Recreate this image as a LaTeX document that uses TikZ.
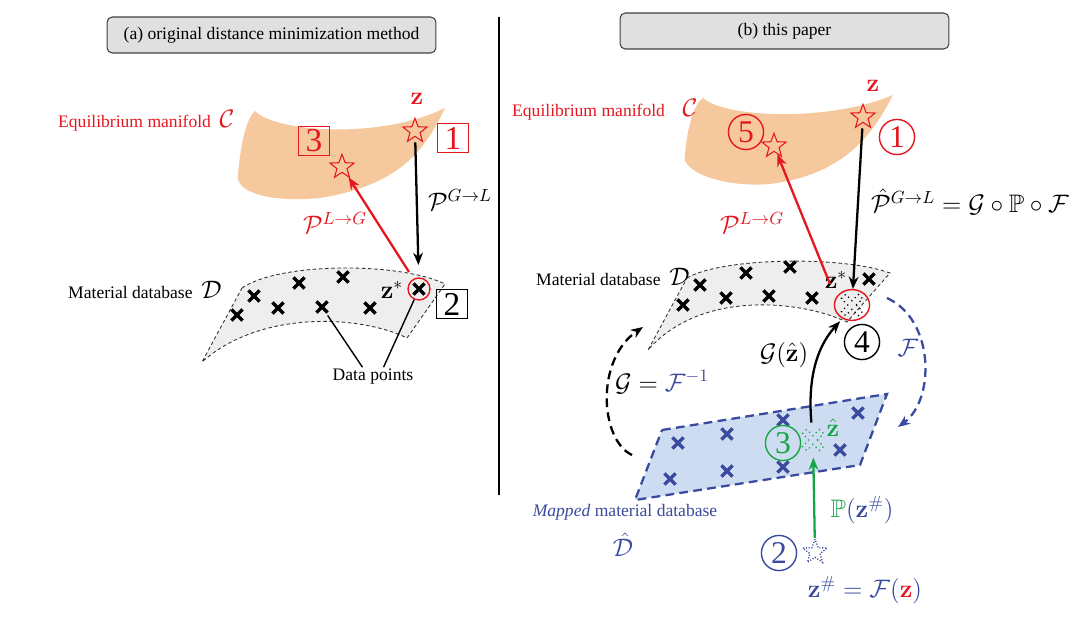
\documentclass[tikz,border=0pt]{standalone}
\usepackage{amsmath,amssymb}
\usepackage[no-math]{fontspec}
\setmainfont{Liberation Serif}
\usepackage{tikz}
\usetikzlibrary{arrows.meta,shapes.geometric,shapes.misc}
\definecolor{zred}{HTML}{E5161E}
\definecolor{zblue}{HTML}{3A4A9F}
\definecolor{zgreen}{HTML}{15A546}
\definecolor{peach}{HTML}{F6C89E}
\definecolor{dbgray}{HTML}{EEEEEE}
\definecolor{hdrgray}{HTML}{E0E0E0}
\definecolor{mapblue}{HTML}{CEDCF1}

\begin{document}
\begin{tikzpicture}[x=0.02cm,y=-0.02cm,
  header/.style={draw=black!75,fill=hdrgray,rounded corners=3pt,line width=0.6pt,minimum width=6.58cm,minimum height=0.72cm},
  starmark/.style={star,star points=5,star point ratio=2.4,draw=zred,line width=0.6pt,minimum size=14.5pt,inner sep=0pt},
  xmark/.style={cross out,draw,line width=2pt,minimum size=4.3pt,inner sep=0pt},
  cnum/.style={circle,draw,line width=0.8pt,inner sep=0pt,minimum size=20pt,font=\fontsize{18}{18}\selectfont},
  bnum/.style={rectangle,draw,line width=0.8pt,inner sep=0pt,minimum width=17.5pt,minimum height=16.5pt,font=\fontsize{19}{19}\selectfont},
  arr/.style={-{Stealth[length=7pt,width=5.5pt]},line width=1.3pt},
  dbase/.style={draw=black!80,fill=dbgray,line width=0.5pt,dash pattern=on 2pt off 1.5pt},
  bdash/.style={draw=zblue,line width=1.3pt,dash pattern=on 5pt off 3pt},
  kdash/.style={draw=black,line width=1.3pt,dash pattern=on 5pt off 3pt},
  dotx/.pic={\draw[dotted,line width=0.7pt,rotate=45] (3,3) -- (3,12) -- (-3,12) -- (-3,3) -- (-12,3) -- (-12,-3)
     -- (-3,-3) -- (-3,-12) -- (3,-12) -- (3,-3) -- (12,-3) -- (12,3) -- cycle;}]
  \useasboundingbox (0,0) rectangle (1080,619);

  % headers
  \node[header] (hdA) at (271.5,35) {(a) original distance minimization method};
  \node[header] (hdB) at (784.5,31) {(b) this paper};
  \draw[line width=1.5pt] (499,17) -- (499,495);

  % ---------- (a) ----------
  \fill[peach] (255,111) .. controls (275,132) and (380,140) .. (445,108)
    .. controls (425,150) and (400,185) .. (320,198)
    .. controls (270,203) and (235,192) .. (238,175)
    .. controls (240,150) and (245,120) .. (255,111) -- cycle;
  \draw[dbase] (242,288) .. controls (280,262) and (400,262) .. (445,284)
    -- (407,338) .. controls (360,315) and (260,310) .. (202,362) -- cycle;
  \foreach \p [count=\i] in {(237,315),(254,296),(278,308),(299,283),(322,307),(343,277),(370,308),(419,289)}
    \node[xmark] (lx\i) at \p {};
  \node[circle,draw=zred,line width=0.8pt,minimum size=12.5pt,inner sep=0pt] (lcirc) at (419,289) {};

  \node[starmark] (zA) at (415,131) {};
  \node[starmark] (s3) at (342,167) {};
  \node[text=zred] at (417,99) {\Large$\mathbf{z}$};
  \node[bnum,zred] (b1) at (453,138) {1};
  \node[bnum,zred] (b3) at (314,141) {3};
  \node[bnum] (b2) at (452,304) {2};
  \node[text=zred,anchor=west] (eqA) at (52,121) {Equilibrium manifold\enspace\Large$\mathcal{C}$};
  \node[anchor=west] (mdA) at (62,290) {Material database\enspace\Large$\mathcal{D}$};
  \node at (392,290) {\Large$\mathbf{z}^*$};
  \node[inner sep=1pt] (dp) at (373,377) {Data points};
  \draw[line width=0.8pt,shorten >=2pt] ([xshift=-6pt]dp.north) -- (lx5);
  \draw[line width=0.8pt] ([xshift=6pt]dp.north) -- (lcirc);

  \coordinate (lz) at (409,272);
  \draw[arr,shorten <=3pt,shorten >=7pt] (zA) -- (lcirc);
  \draw[arr,zred] (lz) -- (s3);
  \node at (460,200) {\Large$\mathcal{P}^{G\rightarrow L}$};
  \node[text=zred] at (335,223) {\Large$\mathcal{P}^{L\rightarrow G}$};

  % ---------- (b) ----------
  \fill[peach] (703,98) .. controls (725,118) and (830,122) .. (893,95)
    .. controls (870,140) and (840,175) .. (770,184)
    .. controls (720,188) and (680,170) .. (685,155)
    .. controls (687,130) and (693,105) .. (703,98) -- cycle;
  \draw[dbase] (687,278) .. controls (720,258) and (840,255) .. (890,273)
    -- (847,322) .. controls (800,300) and (700,290) .. (648,350) -- cycle;
  \foreach \p [count=\i] in {(683,305),(700,285),(726,298),(746,273),(769,296),(790,267),(812,298),(869,279)}
    \node[xmark] (rx\i) at \p {};
  \pic at (852,305) {dotx};
  \node[ellipse,draw=zred,line width=0.8pt,minimum width=20pt,minimum height=17.5pt,inner sep=0pt] (rcirc) at (852,305) {};

  % mapped database
  \filldraw[bdash,fill=mapblue] (662,430) -- (887,394) -- (860,465) -- (635,500) -- cycle;
  \foreach \p [count=\i] in {(678,443),(670,479),(727,434),(727,471),(783,420),(783,467),(840,450),(858,413)}
    \node[xmark,zblue] (bx\i) at \p {};
  \coordinate (zh) at (813,440);
  \pic[zgreen] at (zh) {dotx};

  \node[starmark] (zB) at (863,117) {};
  \node[starmark] (s5) at (774,146) {};
  \node[starmark,draw=zblue,densely dotted,line width=0.8pt] (zs) at (815,552) {};
  \node[text=zred] at (873,86) {\Large$\mathbf{z}$};
  \node[cnum,zred] (c1) at (897,137) {1};
  \node[cnum,zred] (c5) at (746,132) {5};
  \node[cnum] (c4) at (862,342) {4};
  \node[cnum,zgreen] (c3) at (783,443) {3};
  \node[cnum,zblue] (c2) at (779,553) {2};
  \node[text=zred,anchor=west] (eqB) at (506,110) {Equilibrium manifold\quad\Large$\mathcal{C}$};
  \node[anchor=west] (mdB) at (530,277) {Material database\enspace\Large$\mathcal{D}$};
  \node at (836,280) {\Large$\mathbf{z}^*$};
  \node[text=zgreen] at (833,428) {\Large$\hat{\mathbf{z}}$};

  \coordinate (rz) at (830,284);
  \draw[arr,shorten <=3pt] (zB) -- (rcirc);
  \draw[arr,zred] (rz) -- (s5);
  \draw[arr,zgreen,shorten >=10pt] (zs) -- (zh);
  \draw[arr,shorten <=10pt,shorten >=2pt] (zh) .. controls (808,385) and (814,350) .. (rcirc.235);
  \node[text=zred] at (752,223) {\Large$\mathcal{P}^{L\rightarrow G}$};
  \node[anchor=west] at (865,202) {\Large$\hat{\mathcal{P}}^{G\rightarrow L}=\mathcal{G}\circ\mathbb{P}\circ\mathcal{F}$};
  \node at (784,355) {\Large$\mathcal{G}(\hat{\mathbf{z}})$};

  \coordinate (fs) at (887,298);
  \coordinate (fe) at (898,427);
  \draw[bdash,-{Stealth[length=7pt,width=5.5pt]}] (fs) .. controls (935,320) and (935,400) .. (fe);
  \node[text=zblue] at (908,348) {\Large$\mathcal{F}$};
  \coordinate (gs) at (632,455);
  \coordinate (ge) at (643,327);
  \draw[kdash,-{Stealth[length=7pt,width=5.5pt]}] (gs) .. controls (600,440) and (595,360) .. (ge);
  \node at (662,382) {\Large$\mathcal{G}={\color{zblue}\mathcal{F}^{-1}}$};

  \node[text=zblue] at (862,510) {\Large${\color{zgreen}\mathbb{P}}(\mathbf{z}^{\#})$};
  \node[text=zblue] at (865,590) {\Large$\mathbf{z}^{\#}=\mathcal{F}({\color{zred}\mathbf{z}})$};
  \node[text=zblue] at (625,512) {\textit{Mapped} material database};
  \node[text=zblue] at (623,545) {\Large$\hat{\mathcal{D}}$};
\end{tikzpicture}
\end{document}
